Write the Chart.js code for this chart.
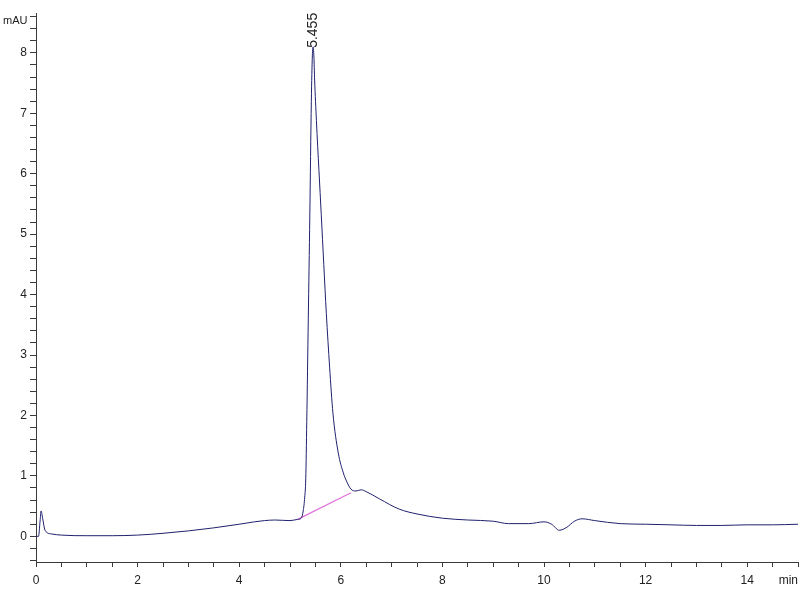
<!DOCTYPE html>
<html>
<head>
<meta charset="utf-8">
<script src="https://cdn.jsdelivr.net/npm/chart.js@4/dist/chart.umd.min.js"></script>
<style>
    html, body { margin: 0; padding: 0; background: #fff; }
    #wrap { width: 800px; height: 600px; }
</style>
</head>
<body>
<div id="wrap"><canvas id="chrom"></canvas></div>
<script>
// Retention time (min) and signal (mAU)
const times = [0.00, 0.05, 0.08, 0.10, 0.13, 0.17, 0.22, 0.30, 0.50, 1.00, 1.50, 2.00, 2.50, 3.00, 3.50, 4.00,
    4.30, 4.50, 4.70, 5.00, 5.15, 5.22, 5.26, 5.29, 5.31, 5.33, 5.36, 5.39, 5.42, 5.44, 5.455, 5.47, 5.485,
    5.52, 5.57, 5.615, 5.665, 5.715, 5.78, 5.845, 5.95, 6.05, 6.12, 6.20, 6.30, 6.40, 6.50, 6.76, 7.15,
    7.50, 8.00, 8.50, 9.00, 9.30, 9.70, 10.00, 10.15, 10.30, 10.45, 10.60, 10.75, 11.00, 11.50,
    12.00, 12.50, 13.00, 13.50, 14.00, 14.50, 15.00];
const signal = [0.00, 0.00, 0.25, 0.42, 0.30, 0.12, 0.06, 0.04, 0.02, 0.01, 0.01, 0.02, 0.05, 0.09, 0.14, 0.20,
    0.24, 0.26, 0.27, 0.26, 0.28, 0.30, 0.42, 0.65, 0.95, 1.90, 3.60, 5.30, 7.20, 7.95, 8.10, 7.95, 7.55,
    6.88, 6.05, 5.33, 4.50, 3.69, 2.80, 2.04, 1.38, 1.05, 0.90, 0.78, 0.75, 0.77, 0.74, 0.62, 0.45,
    0.37, 0.30, 0.27, 0.25, 0.21, 0.21, 0.24, 0.20, 0.10, 0.15, 0.25, 0.29, 0.26, 0.21,
    0.20, 0.19, 0.18, 0.18, 0.19, 0.19, 0.20];

// Integration baseline under the main peak
const baseTimes = [5.15, 6.20];
const baseSignal = [0.28, 0.72];

// Peak annotation
const peakTime = 5.455;
const peakHeight = 8.10;
const peakLabel = '5.455';

// Axis labels
const yTickLabels = [0, 1, 2, 3, 4, 5, 6, 7, 8];
const xTickLabels = [0, 2, 4, 6, 8, 10, 12, 14];
const yUnit = 'mAU';
const xUnit = 'min';

const FONT = "'Liberation Sans', Arial, sans-serif";
const AXIS_COLOR = '#3a3a3a';

const toPoints = (xs, ys) => xs.map((x, i) => ({ x: x, y: ys[i] }));

// Extra text: units and peak retention time
const annotations = {
    id: 'annotations',
    afterDraw(chart) {
        const ctx = chart.ctx;
        const area = chart.chartArea;
        const xs = chart.scales.x;
        const ys = chart.scales.y;
        ctx.save();
        ctx.fillStyle = '#222';
        ctx.textBaseline = 'middle';
        ctx.font = '11px ' + FONT;
        ctx.textAlign = 'left';
        ctx.fillText(yUnit, 3, 21);
        ctx.font = '12px ' + FONT;
        ctx.textAlign = 'right';
        ctx.fillText(xUnit, area.right, 581);

        // rotated peak label, reading bottom to top
        const px = xs.getPixelForValue(peakTime);
        const py = ys.getPixelForValue(peakHeight) + 1;
        ctx.translate(px, py);
        ctx.rotate(-Math.PI / 2);
        ctx.font = '14px ' + FONT;
        ctx.textAlign = 'left';
        ctx.fillText(peakLabel, 0, 0);
        ctx.restore();
    }
};

new Chart(document.getElementById('chrom'), {
    type: 'line',
    data: {
        datasets: [
            {
                label: 'signal',
                data: toPoints(times, signal),
                borderColor: '#20206e',
                borderWidth: 1,
                pointRadius: 0,
                cubicInterpolationMode: 'monotone',
                fill: false
            },
            {
                label: 'baseline',
                data: toPoints(baseTimes, baseSignal),
                borderColor: '#e070d8',
                borderWidth: 1.2,
                pointRadius: 0,
                fill: false
            }
        ]
    },
    options: {
        responsive: true,
        maintainAspectRatio: false,
        animation: false,
        layout: { padding: { top: 13, right: 2, left: 0, bottom: 0 } },
        plugins: {
            legend: { display: false },
            tooltip: { enabled: false }
        },
        scales: {
            x: {
                type: 'linear',
                min: 0,
                max: 15,
                afterFit: (scale) => {
                    scale.height = 38;
                    scale.paddingLeft = 0;
                    scale.paddingRight = 0;
                },
                border: { color: AXIS_COLOR, width: 1 },
                grid: { drawOnChartArea: false, color: AXIS_COLOR, tickLength: 5 },
                ticks: {
                    stepSize: 0.5,
                    includeBounds: false,
                    autoSkip: false,
                    maxRotation: 0,
                    padding: 6,
                    color: '#222',
                    font: { family: FONT, size: 12 },
                    callback: (v) => xTickLabels.includes(v) ? String(v) : ''
                }
            },
            y: {
                type: 'linear',
                min: -0.425,
                max: 8.66,
                afterFit: (scale) => {
                    scale.width = 36;
                    scale.paddingTop = 0;
                    scale.paddingBottom = 0;
                },
                border: { color: AXIS_COLOR, width: 1 },
                grid: { drawOnChartArea: false, color: AXIS_COLOR, tickLength: 6 },
                ticks: {
                    stepSize: 0.2,
                    includeBounds: false,
                    autoSkip: false,
                    padding: 3,
                    color: '#222',
                    font: { family: FONT, size: 12 },
                    callback: (v) => yTickLabels.includes(v) ? String(v) : ''
                }
            }
        }
    },
    plugins: [annotations]
});
</script>
</body>
</html>
